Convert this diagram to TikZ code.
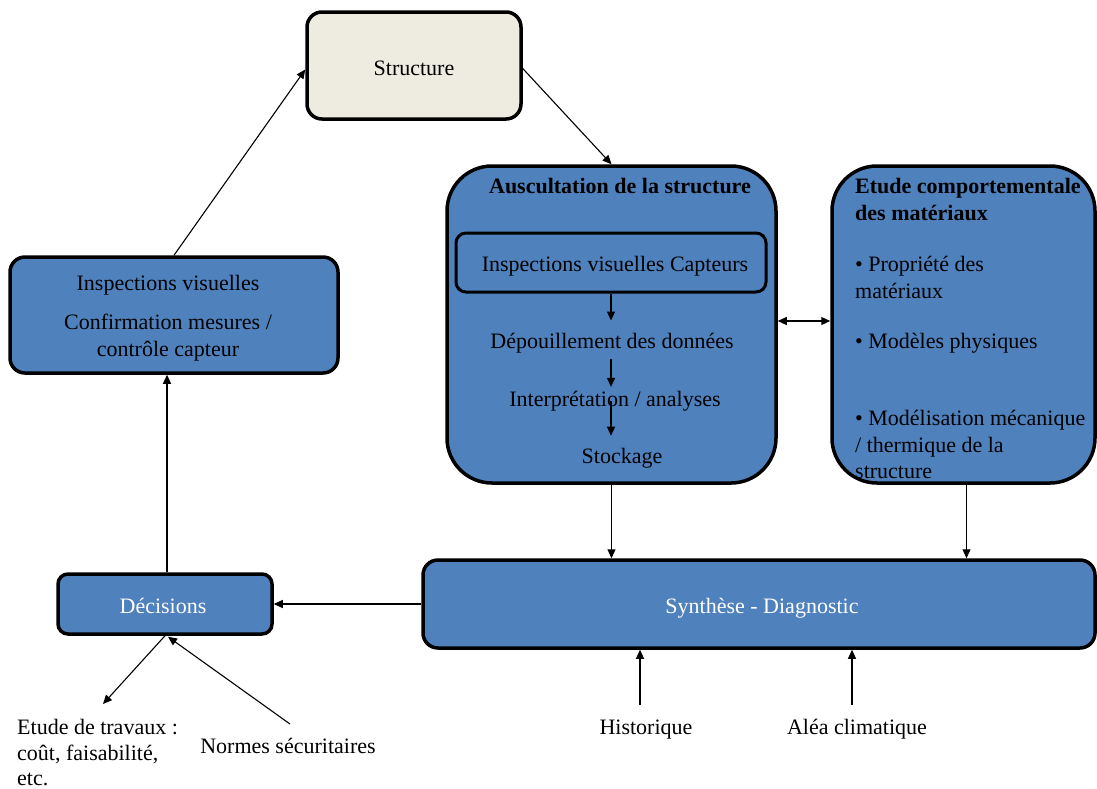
\documentclass[tikz,border=0pt]{standalone}
\usepackage{fontspec}
\setmainfont{Liberation Serif}
\usetikzlibrary{arrows.meta,calc}
\definecolor{boxblue}{HTML}{4F81BD}
\definecolor{beige}{HTML}{EEECE1}
\begin{document}
\begin{tikzpicture}[x=1pt,y=-1pt,
  every node/.style={font=\fontsize{22}{27}\selectfont, inner sep=0pt},
  bbox/.style={draw=black, line width=3.5pt, fill=boxblue},
  arr/.style={line width=1.1pt, -{Triangle[length=9pt,width=8pt]}},
  darr/.style={line width=1.1pt, {Triangle[length=9pt,width=8pt]}-{Triangle[length=9pt,width=8pt]}},
  txt/.style={anchor=base, text=black},
  ltxt/.style={anchor=base west, text=black},
  btxt/.style={anchor=base west, text=black, font=\fontsize{22}{27}\selectfont\bfseries},
]
\useasboundingbox (0,0) rectangle (1097,788);

% Structure
\node[draw=black, line width=3.5pt, fill=beige, rounded corners=15pt, minimum width=214pt, minimum height=107pt] (struct) at (414,65.5) {};
\node[txt] (structt) at (414,75) {Structure};

% Auscultation
\node[bbox, rounded corners=45pt, minimum width=329pt, minimum height=317pt] (ausc) at (611.5,324.5) {};
\node[txt, font=\fontsize{22}{27}\selectfont\bfseries] (ausct) at (620,193) {Auscultation de la structure};
\node[draw=black, line width=3pt, rounded corners=10pt, minimum width=310pt, minimum height=59pt] (inner) at (611,262.5) {};
\node[txt] (innert) at (615,271) {Inspections visuelles Capteurs};
\node[txt] (dep) at (612,348) {Dépouillement des données};
\node[txt] (interp) at (615,406) {Interprétation / analyses};
\node[txt] (stock) at (622,463) {Stockage};
\draw[arr] (inner.south) -- ++(0,27);
\draw[arr] ($(dep.south)+(-1,6)$) -- ++(0,28);
\draw[arr] ($(interp.center)+(-4,0)$) -- ++(0,35);

% Etude comportementale
\node[bbox, rounded corners=45pt, minimum width=263pt, minimum height=317pt] (etude) at (963.5,324.5) {};
\node[btxt] (et1) at (855,193) {Etude comportementale};
\node[btxt] (et2) at (855,220) {des matériaux};
\node[ltxt] (et3) at (855,271) {• Propriété des};
\node[ltxt] (et4) at (855,298) {matériaux};
\node[ltxt] (et5) at (855,348) {• Modèles physiques};
\node[ltxt] (et6) at (855,425) {• Modélisation mécanique};
\node[ltxt] (et7) at (855,452) {/ thermique de la};
\node[ltxt] (et8) at (855,478) {structure};

\draw[darr] ($(ausc.east)+(0,-3.5)$) -- ($(etude.west)+(0,-3.5)$);

% Left inspections box
\node[bbox, rounded corners=15pt, minimum width=328pt, minimum height=116pt] (insp) at (174,315) {};
\node[txt] (insp1) at (168,290) {Inspections visuelles};
\node[txt] (insp2) at (168,329) {Confirmation mesures /};
\node[txt] (insp3) at (168,356) {contrôle capteur};

% Decisions
\node[bbox, rounded corners=10pt, minimum width=214pt, minimum height=60pt] (dec) at (165,604) {};
\node[txt, text=white] (dect) at (163,613) {Décisions};

% Synthese
\node[bbox, rounded corners=15pt, minimum width=672pt, minimum height=88pt] (synth) at (759,604) {};
\node[txt, text=white] (syntht) at (762,613) {Synthèse - Diagnostic};

% bottom labels
\node[ltxt] (tr1) at (17,734) {Etude de travaux :};
\node[ltxt] (tr2) at (17,760) {coût, faisabilité,};
\node[ltxt] (tr3) at (17,785) {etc.};
\node[txt] (norm) at (288,753) {Normes sécuritaires};
\node[txt] (hist) at (646,734) {Historique};
\node[txt] (alea) at (857,734) {Aléa climatique};

\coordinate (trend) at (103,704);
\coordinate (normstart) at (290,724);
\coordinate (histstart) at (640,705);
\coordinate (aleastart) at (852,705);

% connectors
\draw[arr] (insp.north) -- ($(struct.west)+(0,4)$);
\draw[arr] ($(struct.east)+(0,3)$) -- (ausc.north);
\draw[arr] (ausc.south) -- (ausc.south |- synth.north);
\draw[arr] ($(etude.south)+(3,0)$) -- ($(etude.south |- synth.north)+(3,0)$);
\draw[arr] (synth.west) -- (dec.east);
\draw[arr] ($(dec.north)+(2,0)$) -- ($(dec.north |- insp.south)+(2,0)$);
\draw[arr] (dec.south) -- (trend);
\draw[arr] (normstart) -- ($(dec.south)+(3,1)$);
\draw[arr] (histstart) -- (histstart |- synth.south);
\draw[arr] (aleastart) -- (aleastart |- synth.south);
\end{tikzpicture}
\end{document}
